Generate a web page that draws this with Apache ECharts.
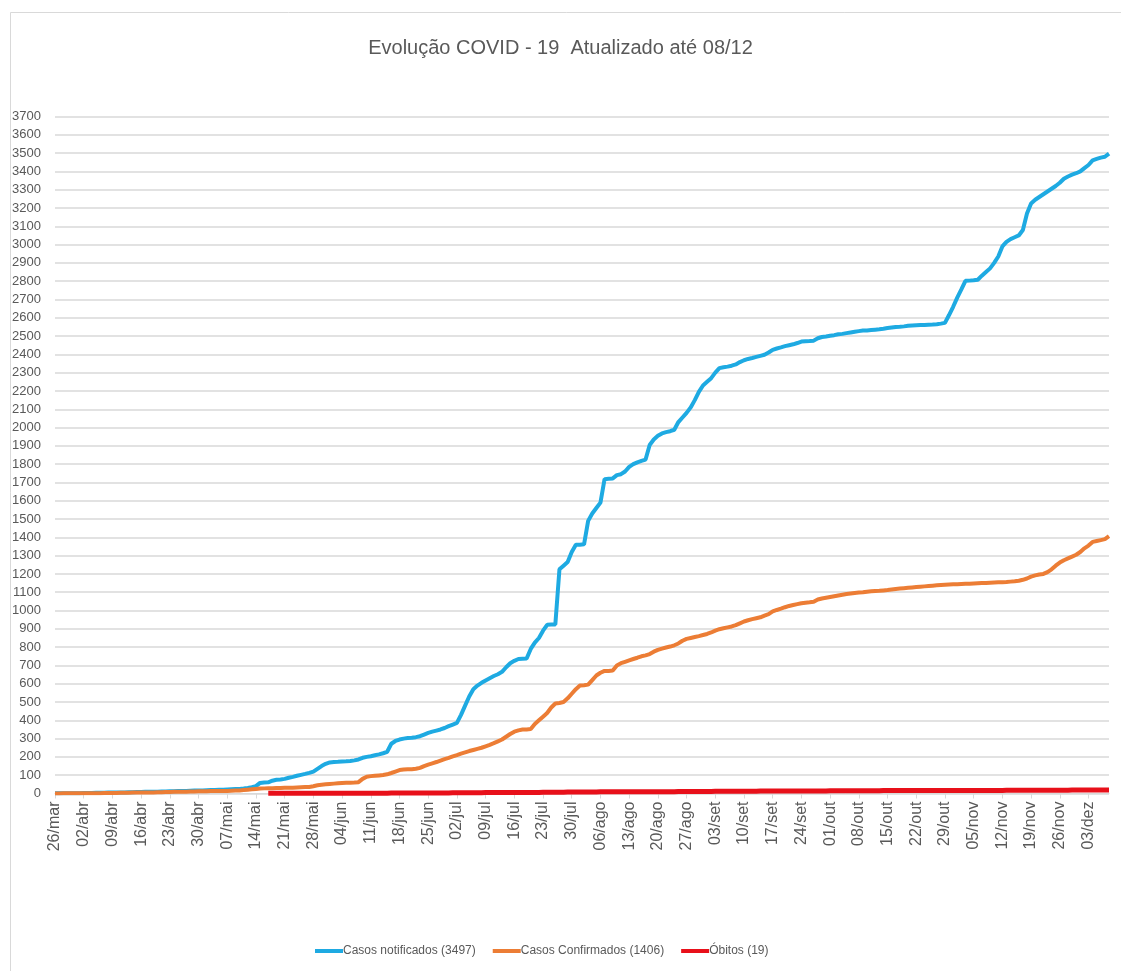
<!DOCTYPE html>
<html>
<head>
<meta charset="utf-8">
<script src="https://cdn.jsdelivr.net/npm/echarts@6/dist/echarts.min.js"></script>
<style>
html,body{margin:0;padding:0;background:#fff;}
#chart{width:1121px;height:971px;}
</style>
</head>
<body>
<div id="chart"></div>
<script>
// ---- DATA ----
const titleText = 'Evolução COVID - 19  Atualizado até 08/12';
const monthNames = ['jan','fev','mar','abr','mai','jun','jul','ago','set','out','nov','dez'];
const startDate = [2020, 2, 26]; // 26/mar
const dayCount = 258;            // 26/mar .. 08/dez
const legendNames = ['Casos notificados (3497)', 'Casos Confirmados (1406)', 'Óbitos (19)'];
const yTicks = {min: 0, max: 3700, interval: 100};

const notificados = [
  1,1,1,2,2,2,2,3,3,3,
  4,4,4,5,5,5,6,6,7,7,
  8,8,9,9,10,10,11,11,12,12,
  13,14,14,15,16,17,17,18,19,19,
  20,21,22,23,24,25,27,30,34,40,
  58,60,61,70,75,77,80,86,91,97,
  102,107,113,120,135,150,162,170,172,173,
  175,176,178,181,186,195,200,204,209,214,
  220,228,272,287,295,300,303,305,308,313,
  322,331,338,344,350,358,368,377,386,430,
  480,530,570,590,605,618,630,642,652,665,
  690,712,725,735,737,738,790,825,850,890,
  922,923,924,1225,1245,1265,1320,1360,1360,1362,
  1490,1530,1560,1590,1718,1720,1722,1740,1745,1760,
  1785,1800,1810,1818,1825,1905,1935,1955,1968,1975,
  1980,1988,2030,2055,2080,2110,2150,2195,2230,2250,
  2270,2300,2325,2330,2333,2338,2345,2358,2368,2375,
  2380,2386,2392,2398,2410,2425,2432,2438,2445,2450,
  2455,2462,2470,2472,2473,2475,2488,2495,2498,2502,
  2505,2510,2512,2516,2520,2524,2527,2530,2531,2533,
  2535,2537,2540,2544,2547,2550,2551,2553,2556,2558,
  2559,2560,2561,2562,2563,2565,2568,2572,2615,2660,
  2710,2755,2802,2803,2805,2808,2830,2850,2870,2900,
  2935,2990,3015,3030,3040,3050,3080,3170,3225,3245,
  3260,3275,3290,3305,3320,3338,3360,3372,3382,3390,
  3400,3418,3435,3460,3468,3475,3480,3497
];

const confirmados = [
  0,0,1,1,1,1,1,2,2,2,
  2,2,3,3,3,3,4,4,4,5,
  5,5,6,6,6,7,7,8,8,9,
  9,10,10,11,11,12,12,12,13,13,
  13,14,14,15,16,17,19,21,23,25,
  27,28,29,29,30,30,31,31,32,33,
  34,35,36,40,45,48,50,52,54,56,
  58,59,59,60,62,80,92,95,97,99,
  101,105,112,120,128,131,132,133,135,140,
  150,158,165,172,180,188,195,203,210,218,
  225,232,238,244,250,258,266,275,285,295,
  310,325,338,345,350,350,352,380,400,420,
  440,470,492,495,500,520,545,570,590,592,
  595,620,645,660,670,670,672,700,712,720,
  728,735,742,750,755,762,775,785,792,798,
  803,810,820,835,845,850,855,860,866,872,
  880,890,898,903,908,913,920,930,940,947,
  953,958,963,972,980,995,1003,1010,1018,1025,
  1030,1035,1040,1043,1045,1048,1060,1066,1070,1074,
  1078,1082,1086,1090,1093,1096,1098,1100,1103,1105,
  1107,1108,1110,1112,1115,1118,1120,1122,1124,1126,
  1128,1130,1132,1134,1136,1138,1140,1141,1142,1143,
  1144,1145,1146,1147,1148,1149,1150,1151,1152,1153,
  1154,1155,1156,1158,1160,1163,1168,1175,1185,1192,
  1197,1200,1210,1225,1245,1262,1275,1285,1295,1305,
  1320,1340,1355,1375,1380,1385,1390,1406
];

const obitosStart = 52; // first day index with data (17/mai)
const obitos = [
  1,1,1,1,1,1,1,1,
  1,1,1,1,1,1,2,2,2,2,
  2,2,2,2,2,2,2,2,2,2,
  2,2,3,3,3,3,3,3,3,3,
  3,3,3,3,3,3,3,4,4,4,
  4,4,4,4,4,5,5,5,5,5,
  5,5,5,6,6,6,6,6,6,7,
  7,7,7,7,7,8,8,8,8,8,
  8,8,8,9,9,9,9,9,9,9,
  9,9,10,10,10,10,10,10,10,10,
  10,10,11,11,11,11,11,11,11,11,
  11,12,12,12,12,12,12,12,12,12,
  12,12,13,13,13,13,13,13,13,13,
  14,14,14,14,14,14,14,14,14,15,
  15,15,15,15,15,15,15,15,15,15,
  15,15,16,16,16,16,16,16,16,16,
  16,16,16,16,16,16,17,17,17,17,
  17,17,17,17,17,17,17,17,17,17,
  17,17,18,18,18,18,18,18,18,18,
  18,18,18,18,18,18,18,18,19,19,
  19,19,19,19,19,19,19,19
];

// ---- BUILD ----
const categories = [];
{
  const d0 = Date.UTC(startDate[0], startDate[1], startDate[2]);
  for (let i = 0; i < dayCount; i++) {
    const d = new Date(d0 + i * 86400000);
    const dd = String(d.getUTCDate()).padStart(2, '0');
    categories.push(dd + '/' + monthNames[d.getUTCMonth()]);
  }
}
const obitosData = new Array(obitosStart).fill(null).concat(obitos);

const FONT = '"Liberation Sans", Arial, sans-serif';
const chart = echarts.init(document.getElementById('chart'), null, {renderer: 'canvas'});
chart.setOption({
  backgroundColor: '#ffffff',
  animation: false,
  textStyle: {fontFamily: FONT},
  graphic: [{
    type: 'rect', left: 8, top: 10, z: -10,
    shape: {width: 1125, height: 975},
    style: {fill: 'none', stroke: '#d9d9d9', lineWidth: 1}
  }],
  title: {
    text: titleText, left: 'center', top: 33,
    textStyle: {fontFamily: FONT, fontWeight: 'normal', fontSize: 20, color: '#595959'}
  },
  legend: {
    left: 310, top: 940,
    itemWidth: 28, itemHeight: 4, itemGap: 17,
    icon: 'rect',
    textStyle: {fontFamily: FONT, fontSize: 12, color: '#595959', padding: [0,0,0,-5]},
    data: legendNames
  },
  grid: {left: 55, right: 12, top: 116.5, bottom: 177.5, containLabel: false},
  xAxis: {
    type: 'category', data: categories, boundaryGap: false,
    axisLine: {show: true, lineStyle: {color: '#d9d9d9', width: 1}},
    axisTick: {show: true, interval: 6, length: 5, lineStyle: {color: '#d9d9d9'}},
    axisLabel: {interval: 6, rotate: 90, fontSize: 16, color: '#595959', margin: 8, fontFamily: FONT},
    splitLine: {show: false}
  },
  yAxis: {
    type: 'value', min: yTicks.min, max: yTicks.max, interval: yTicks.interval,
    axisLine: {show: false}, axisTick: {show: false},
    axisLabel: {fontSize: 13, color: '#595959', margin: 14, fontFamily: FONT,
      formatter: function (v) { return String(v); }},
    splitLine: {lineStyle: {color: '#d9d9d9', width: 1.5}}
  },
  series: [
    {name: legendNames[0], type: 'line', data: notificados, symbol: 'none', smooth: false,
     lineStyle: {color: '#1eaae2', width: 4}, itemStyle: {color: '#1eaae2'}},
    {name: legendNames[1], type: 'line', data: confirmados, symbol: 'none', smooth: false,
     lineStyle: {color: '#ec7d35', width: 4}, itemStyle: {color: '#ec7d35'}},
    {name: legendNames[2], type: 'line', data: obitosData, symbol: 'none', smooth: false,
     lineStyle: {color: '#e8101a', width: 5}, itemStyle: {color: '#e8101a'}}
  ]
});
</script>
</body>
</html>
